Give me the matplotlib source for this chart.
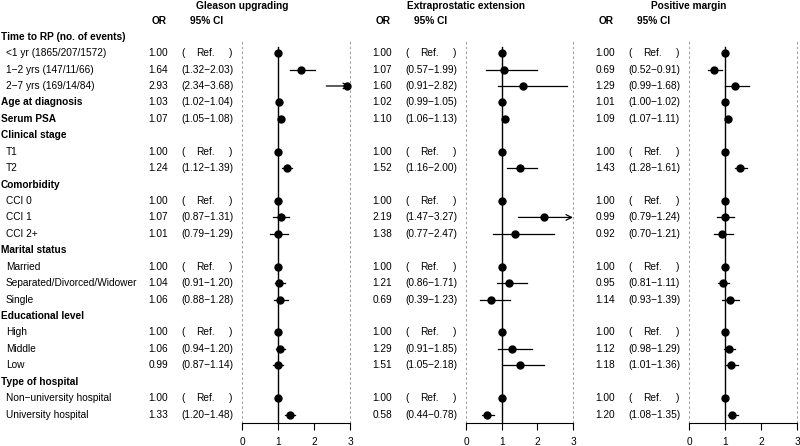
import numpy as np
import matplotlib
matplotlib.use("Agg")
import matplotlib.pyplot as plt

plt.rcParams['font.family'] = ['Liberation Sans', 'DejaVu Sans']

# ---------------- data ----------------
row_labels = [
    "Time to RP (no. of events)",
    "<1 yr (1865/207/1572)",
    "1\u22122 yrs (147/11/66)",
    "2\u22127 yrs (169/14/84)",
    "Age at diagnosis",
    "Serum PSA",
    "Clinical stage",
    "T1",
    "T2",
    "Comorbidity",
    "CCI 0",
    "CCI 1",
    "CCI 2+",
    "Marital status",
    "Married",
    "Separated/Divorced/Widower",
    "Single",
    "Educational level",
    "High",
    "Middle",
    "Low",
    "Type of hospital",
    "Non\u2212university hospital",
    "University hospital",
]
row_bold = [True, False, False, False, True, True, True, False, False, True, False,
            False, False, True, False, False, False, True, False, False, False, True,
            False, False]
# rows that carry estimates (index into row_labels)
data_rows = [1, 2, 3, 4, 5, 7, 8, 10, 11, 12, 14, 15, 16, 18, 19, 20, 22, 23]

panel_titles = ["Gleason upgrading", "Extraprostatic extension", "Positive margin"]

gleason_or = [1.00, 1.64, 2.93, 1.03, 1.07, 1.00, 1.24, 1.00, 1.07, 1.01, 1.00, 1.04, 1.06, 1.00, 1.06, 0.99, 1.00, 1.33]
gleason_lo = [None, 1.32, 2.34, 1.02, 1.05, None, 1.12, None, 0.87, 0.79, None, 0.91, 0.88, None, 0.94, 0.87, None, 1.20]
gleason_hi = [None, 2.03, 3.68, 1.04, 1.08, None, 1.39, None, 1.31, 1.29, None, 1.20, 1.28, None, 1.20, 1.14, None, 1.48]

epe_or = [1.00, 1.07, 1.60, 1.02, 1.10, 1.00, 1.52, 1.00, 2.19, 1.38, 1.00, 1.21, 0.69, 1.00, 1.29, 1.51, 1.00, 0.58]
epe_lo = [None, 0.57, 0.91, 0.99, 1.06, None, 1.16, None, 1.47, 0.77, None, 0.86, 0.39, None, 0.91, 1.05, None, 0.44]
epe_hi = [None, 1.99, 2.82, 1.05, 1.13, None, 2.00, None, 3.27, 2.47, None, 1.71, 1.23, None, 1.85, 2.18, None, 0.78]

margin_or = [1.00, 0.69, 1.29, 1.01, 1.09, 1.00, 1.43, 1.00, 0.99, 0.92, 1.00, 0.95, 1.14, 1.00, 1.12, 1.18, 1.00, 1.20]
margin_lo = [None, 0.52, 0.99, 1.00, 1.07, None, 1.28, None, 0.79, 0.70, None, 0.81, 0.93, None, 0.98, 1.01, None, 1.08]
margin_hi = [None, 0.91, 1.68, 1.02, 1.11, None, 1.61, None, 1.24, 1.21, None, 1.11, 1.39, None, 1.29, 1.36, None, 1.35]

x_ticks = [0, 1, 2, 3]
x_max = 3

panels = [
    (gleason_or, gleason_lo, gleason_hi),
    (epe_or, epe_lo, epe_hi),
    (margin_or, margin_lo, margin_hi),
]

# ---------------- layout ----------------
W, H = 800, 446
fig = plt.figure(figsize=(W / 100, H / 100), dpi=100)
FS = 7.3

row0_px = 36.7
row_step = 16.43


def px2row(p):
    return (p - row0_px) / row_step


# text axes in pixel-x / row-y coordinates
ax_t = fig.add_axes([0, 0, 1, 1])
ax_t.set_xlim(0, W)
ax_t.set_ylim(px2row(H), px2row(0))
ax_t.axis('off')

for i, (lab, b) in enumerate(zip(row_labels, row_bold)):
    ax_t.text(1 if b else 6, i, lab, fontsize=FS, fontweight='bold' if b else 'normal',
              ha='left', va='center')

panel_x0 = [242, 466, 689]
panel_x3 = [350, 573, 797]
top_px, bot_px = 40, 423

for k, ((ors, los, his), x0, x3, title) in enumerate(zip(panels, panel_x0, panel_x3, panel_titles)):
    # header texts
    ax_t.text(x0, px2row(6), title, fontsize=FS, fontweight='bold', ha='center', va='center')
    ax_t.text(x0 - 83, px2row(21), "OR", fontsize=FS, fontweight='bold', ha='center', va='center')
    ax_t.text(x0 - 35, px2row(21), "95% CI", fontsize=FS, fontweight='bold', ha='center', va='center')
    for r, o, lo, hi in zip(data_rows, ors, los, his):
        ax_t.text(x0 - 74, r, f"{o:.2f}", fontsize=FS, ha='right', va='center')
        if lo is None:
            ax_t.text(x0 - 61, r, "(", fontsize=FS, ha='left', va='center')
            ax_t.text(x0 - 37, r, "Ref.", fontsize=FS, ha='center', va='center')
            ax_t.text(x0 - 10, r, ")", fontsize=FS, ha='right', va='center')
        else:
            ax_t.text(x0 - 61, r, f"({lo:.2f}\u2212{hi:.2f})", fontsize=FS, ha='left', va='center')

    # plot axes
    ax = fig.add_axes([x0 / W, 1 - bot_px / H, (x3 - x0) / W, (bot_px - top_px) / H])
    ax.set_xlim(0, x_max)
    ax.set_ylim(px2row(bot_px), px2row(top_px))
    ax.patch.set_alpha(0)
    for s in ['top', 'right', 'left']:
        ax.spines[s].set_visible(False)
    ax.spines['bottom'].set_linewidth(0.8)
    ax.set_yticks([])
    ax.set_xticks(x_ticks)
    ax.set_xticklabels([str(t) for t in x_ticks], fontsize=FS)
    ax.tick_params(axis='x', length=5, width=0.8, pad=5)

    for xv in (0, x_max):
        ax.axvline(xv, color='#999999', lw=0.7, ls=(0, (2.5, 2.5)), clip_on=False)
    ax.plot([1, 1], [px2row(47), px2row(bot_px)], color='black', lw=1.0, clip_on=False)

    for r, o, lo, hi in zip(data_rows, ors, los, his):
        if lo is not None:
            if hi > x_max:
                ax.annotate("", xy=(x_max, r), xytext=(lo, r),
                            arrowprops=dict(arrowstyle='->', color='black', lw=0.9,
                                            shrinkA=0, shrinkB=0, mutation_scale=10),
                            annotation_clip=False)
            else:
                ax.plot([lo, hi], [r, r], color='black', lw=0.9, clip_on=False)
        ax.plot([o], [r], 'o', color='black', ms=5, clip_on=False, zorder=5)

fig.savefig("out.png", dpi=100)
